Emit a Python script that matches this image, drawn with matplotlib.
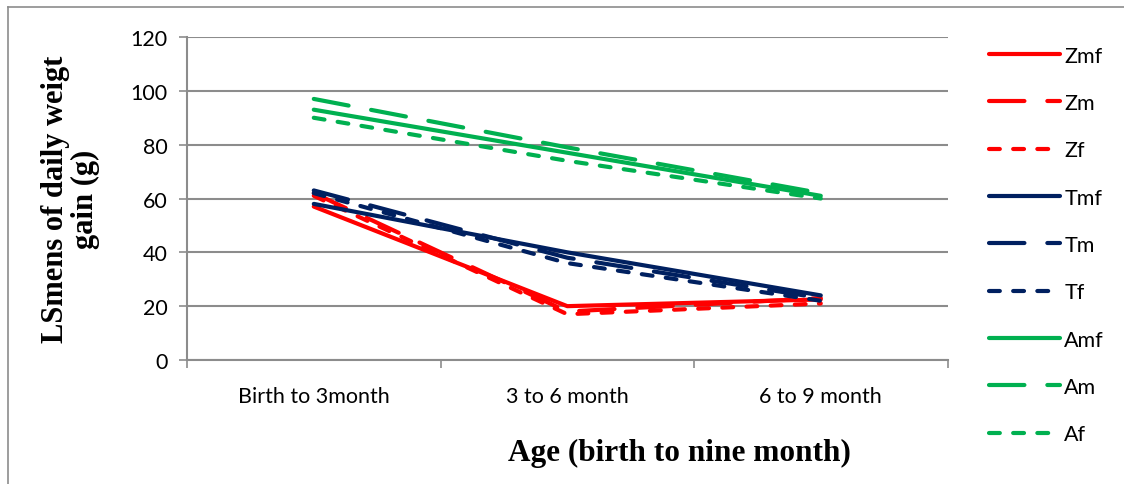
import matplotlib.pyplot as plt
from matplotlib.lines import Line2D

periods = ["Birth to 3month", "3 to 6 month", "6 to 9 month"]
groups = ["Zmf", "Zm", "Zf", "Tmf", "Tm", "Tf", "Amf", "Am", "Af"]

zmf = [57, 20, 22.5]
zm = [62, 18, 23]
zf = [61, 17, 21]
tmf = [58, 40, 24]
tm = [63, 38, 23]
tf = [62, 36, 22]
amf = [93, 77, 61]
am = [97, 79, 62]
af = [90, 74, 60]

red = "#FF0000"
navy = "#002060"
green = "#00B050"

long_dash = (0, (8.5, 5.5))
short_dash = (0, (2.6, 3.2))
styles = {
    "Zmf": (red, "-"), "Zm": (red, long_dash), "Zf": (red, short_dash),
    "Tmf": (navy, "-"), "Tm": (navy, long_dash), "Tf": (navy, short_dash),
    "Amf": (green, "-"), "Am": (green, long_dash), "Af": (green, short_dash),
}
series = [zmf, zm, zf, tmf, tm, tf, amf, am, af]

fig = plt.figure(figsize=(11.24, 4.85), dpi=100)
ax = fig.add_axes([0.1664, 0.2557, 0.6766, 0.6659])

x = [0.5, 1.5, 2.5]
for name, vals in zip(groups, series):
    color, ls = styles[name]
    ax.plot(x, vals, color=color, lw=3.0, linestyle=ls, solid_capstyle="round",
            dash_capstyle="round", solid_joinstyle="round", label=name)

ax.set_xlim(0, 3)
ax.set_ylim(0, 120)
ax.set_yticks(range(0, 121, 20))
ax.set_xticks([0, 1, 2, 3])
ax.set_xticklabels([])
ax.set_xticks(x, minor=True)
ax.set_xticklabels(periods, minor=True, fontsize=15.5, family="Lato")
ax.tick_params(axis="x", which="minor", length=0, pad=19)
ax.tick_params(axis="x", which="major", length=6, color="#8c8c8c", width=1.2)
ax.tick_params(axis="y", length=6, color="#8c8c8c", width=1.2, pad=8)
for lbl in ax.get_yticklabels():
    lbl.set_fontsize(15.5)
    lbl.set_family("Lato")

ax.grid(axis="y", color="#8c8c8c", lw=1.5)
ax.set_axisbelow(True)
for s in ["top", "right"]:
    ax.spines[s].set_visible(False)
for s in ["left", "bottom"]:
    ax.spines[s].set_color("#8c8c8c")
    ax.spines[s].set_linewidth(1.5)

ax.set_ylabel("LSmens of daily weigt\ngain (g)", family="Liberation Serif",
              fontweight="bold", fontsize=22, linespacing=1.05, labelpad=22)
ax.set_xlabel("Age (birth to nine month)", family="Liberation Serif",
              fontweight="bold", fontsize=22.5)
ax.xaxis.set_label_coords(0.648, -0.242)

leg = ax.legend(loc="upper left", bbox_to_anchor=(1.043, 1.0), frameon=False,
                prop={"family": "Lato", "size": 15.5}, handlelength=3.3,
                handletextpad=0.2, labelspacing=1.27, borderaxespad=0)

# outer chart frame (top and left edges)
fig.add_artist(Line2D([8 / 1124, 8 / 1124], [0, 1 - 8 / 485], color="#8c8c8c", lw=1.2))
fig.add_artist(Line2D([8 / 1124, 1], [1 - 8 / 485, 1 - 8 / 485], color="#8c8c8c", lw=1.2))

fig.savefig("out.png", dpi=100)
